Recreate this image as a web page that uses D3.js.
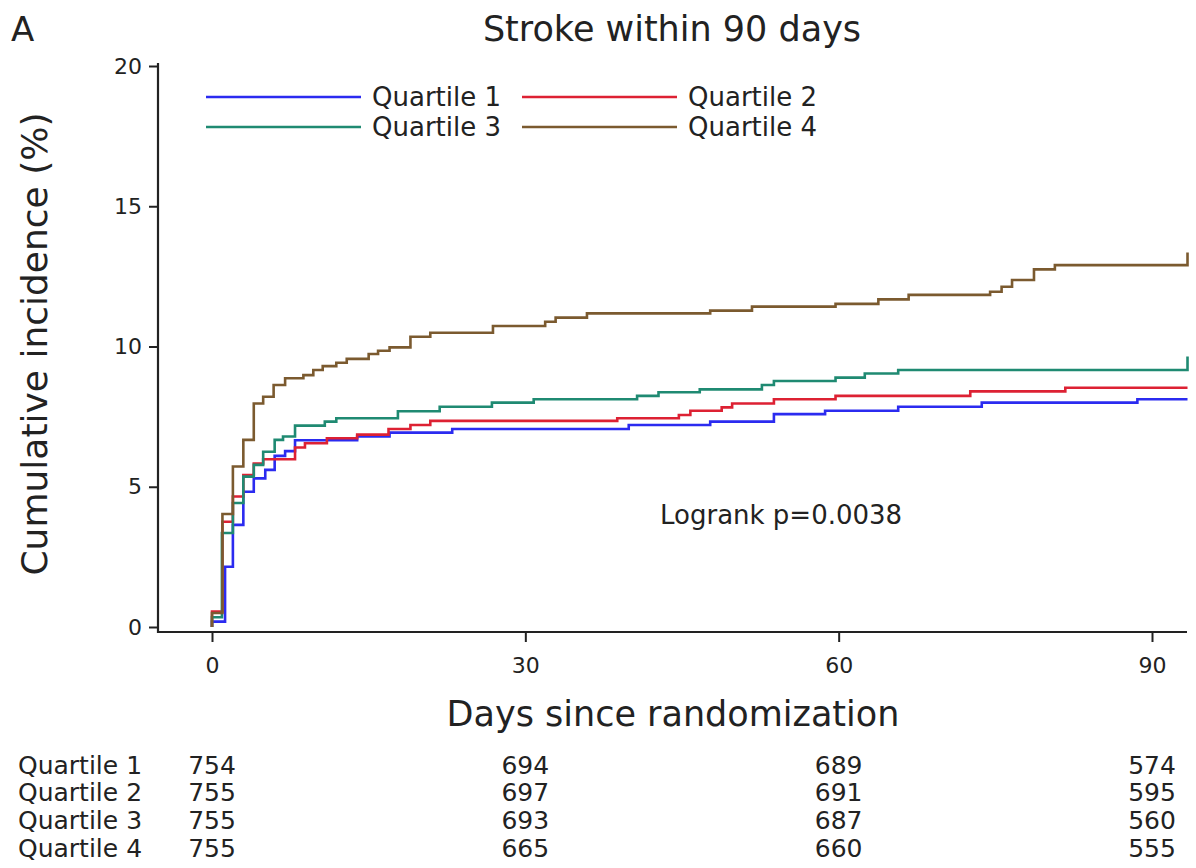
<!DOCTYPE html>
<html>
<head>
<meta charset="utf-8">
<script src="https://cdn.jsdelivr.net/npm/d3@7"></script>
<style>
  html, body { margin: 0; padding: 0; background: #fff; }
  svg text { font-family: "DejaVu Sans", sans-serif; fill: #222; }
</style>
</head>
<body>
<svg id="chart" width="1196" height="868"></svg>
<script>
// ---- Data ----
const seriesNames = ["Quartile 1", "Quartile 2", "Quartile 3", "Quartile 4"];
const seriesColors = ["#2b2bf0", "#dd2133", "#1f8a72", "#7b5a2f"];

// [day, cumulative incidence %]
const q1 = [[0,0],[0,0.19],[1.25,2.15],[2,3.64],[3,4.82],[4,5.3],[5.1,5.6],[6,6.1],[7,6.27],[7.95,6.66],
  [13.9,6.79],[17,6.93],[23,7.06],[39.9,7.2],[47.7,7.32],[53.8,7.59],[58.7,7.71],[65.7,7.85],[73.7,8.0],[88.6,8.12],[93.4,8.12]];
const q2 = [[0,0],[0,0.55],[1,3.75],[2,4.65],[3,5.42],[4,5.83],[4.9,5.98],[7.95,6.4],[8.9,6.55],[11,6.73],[13.9,6.86],
  [16.9,7.06],[19,7.2],[20.9,7.35],[38.8,7.44],[44.7,7.56],[45.8,7.71],[48.8,7.83],[49.8,7.97],[53.8,8.12],[59.7,8.24],
  [72.6,8.4],[81.7,8.53],[93.4,8.53]];
const q3 = [[0,0],[0,0.35],[0.95,3.35],[2,4.42],[3,5.36],[4,5.78],[4.9,6.25],[6,6.67],[6.8,6.79],[7.95,7.18],[10.8,7.32],
  [11.9,7.44],[17.8,7.69],[21.8,7.85],[26.8,8.0],[30.8,8.12],[40.7,8.24],[42.75,8.37],[46.7,8.47],[52.65,8.63],[53.8,8.77],
  [59.7,8.89],[62.5,9.04],[65.7,9.16],[93.4,9.16],[93.4,9.64]];
const q4 = [[0,0],[0,0.5],[1,4.03],[2,5.72],[3,6.67],[4,7.97],[4.9,8.21],[5.9,8.63],[7,8.87],[8.75,8.98],[9.7,9.16],
  [10.6,9.3],[11.9,9.42],[12.9,9.56],[15,9.73],[15.9,9.85],[17,9.97],[19,10.35],[20.9,10.49],[26.9,10.73],[31.9,10.88],
  [32.9,11.03],[35.9,11.18],[47.7,11.28],[51.7,11.42],[59.7,11.52],[63.8,11.68],[66.7,11.84],[74.5,11.95],[75.6,12.13],
  [76.6,12.37],[78.7,12.75],[80.7,12.9],[93.4,12.9],[93.4,13.35]];
const seriesData = [q1, q2, q3, q4];

const xTicks = [0, 30, 60, 90];
const yTicks = [0, 5, 10, 15, 20];

// numbers at risk at xTicks
const atRisk1 = [754, 694, 689, 574];
const atRisk2 = [755, 697, 691, 595];
const atRisk3 = [755, 693, 687, 560];
const atRisk4 = [755, 665, 660, 555];
const atRisk = [atRisk1, atRisk2, atRisk3, atRisk4];

const titleText = "Stroke within 90 days";
const panelLabel = "A";
const xLabel = "Days since randomization";
const yLabel = "Cumulative incidence (%)";
const pText = "Logrank p=0.0038";

// ---- Layout ----
const svg = d3.select("#chart");
const x = d3.scaleLinear().domain([0, 90]).range([212, 1152]);
const y = d3.scaleLinear().domain([0, 20]).range([627, 66]);
const axisLeftX = 158, axisBottomY = 632, plotRight = 1187, plotTop = 63;

// axes lines
svg.append("line").attr("x1", axisLeftX).attr("x2", axisLeftX).attr("y1", plotTop).attr("y2", axisBottomY + 1)
  .attr("stroke", "#222").attr("stroke-width", 2.2);
svg.append("line").attr("x1", axisLeftX - 1).attr("x2", plotRight).attr("y1", axisBottomY).attr("y2", axisBottomY)
  .attr("stroke", "#222").attr("stroke-width", 2.2);

// y ticks
const yAxis = svg.append("g").attr("transform", `translate(${axisLeftX},0)`)
  .call(d3.axisLeft(y).tickValues(yTicks).tickSize(9).tickPadding(7).tickFormat(d3.format("d")));
yAxis.select(".domain").remove();
yAxis.selectAll(".tick line").attr("stroke", "#222").attr("stroke-width", 2);
yAxis.selectAll(".tick text").attr("font-size", 22).attr("fill", "#222").attr("font-family", null);

// x ticks
const xAxis = svg.append("g").attr("transform", `translate(0,${axisBottomY})`)
  .call(d3.axisBottom(x).tickValues(xTicks).tickSize(10).tickPadding(15).tickFormat(d3.format("d")));
xAxis.select(".domain").remove();
xAxis.selectAll(".tick line").attr("stroke", "#222").attr("stroke-width", 2);
xAxis.selectAll(".tick text").attr("font-size", 22).attr("fill", "#222").attr("font-family", null);

// curves
const line = d3.line().x(d => x(d[0])).y(d => y(d[1])).curve(d3.curveStepAfter);
seriesData.forEach((s, i) => {
  svg.append("path").datum(s).attr("d", line).attr("fill", "none")
    .attr("stroke", seriesColors[i]).attr("stroke-width", 2.6).attr("stroke-linejoin", "miter");
});

// titles
svg.append("text").attr("x", 11).attr("y", 41).attr("font-size", 34).text(panelLabel);
svg.append("text").attr("x", 672).attr("y", 41).attr("text-anchor", "middle").attr("font-size", 35).text(titleText);
svg.append("text").attr("x", 673).attr("y", 726).attr("text-anchor", "middle").attr("font-size", 35).text(xLabel);
svg.append("text").attr("transform", "translate(47,344) rotate(-90)").attr("text-anchor", "middle")
  .attr("font-size", 36).text(yLabel);
svg.append("text").attr("x", 660).attr("y", 524).attr("font-size", 26).text(pText);

// legend
const legendPos = [[206, 97], [522, 97], [206, 127], [522, 127]];
seriesNames.forEach((n, i) => {
  const [lx, ly] = legendPos[i];
  svg.append("line").attr("x1", lx).attr("x2", lx + 155).attr("y1", ly).attr("y2", ly)
    .attr("stroke", seriesColors[i]).attr("stroke-width", 2.6);
  svg.append("text").attr("x", lx + 166).attr("y", ly + 9).attr("font-size", 26).text(n);
});

// risk table
const rowY = [774, 801, 829, 857];
seriesNames.forEach((n, i) => {
  svg.append("text").attr("x", 18).attr("y", rowY[i]).attr("font-size", 25).text(n);
  atRisk[i].forEach((v, j) => {
    svg.append("text").attr("x", x(xTicks[j])).attr("y", rowY[i]).attr("text-anchor", "middle")
      .attr("font-size", 25).text(v);
  });
});
</script>
</body>
</html>
